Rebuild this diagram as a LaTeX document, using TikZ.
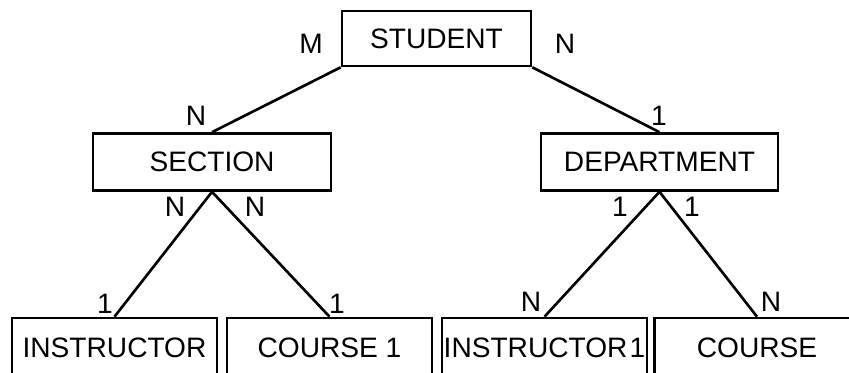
\documentclass[tikz,border=0pt]{standalone}
\usepackage{fontspec}
\setmainfont{Liberation Sans}
\usepackage{tikz}

\begin{document}
\begin{tikzpicture}[
        entity/.style={draw, line width=1.5pt, inner sep=0pt, minimum height=1.14cm},
        lower/.style={entity, minimum width=4.1cm, minimum height=1.2cm},
        card/.style={inner sep=0pt},
        every node/.style={font=\fontsize{16}{19}\selectfont}
    ]
        \useasboundingbox (0,0) rectangle (16.98,7.44);
        \node[entity, minimum width=3.78cm, minimum height=1.1cm] (student) at (8.73,6.67) {STUDENT};
        \node[entity, minimum width=4.76cm] (section) at (4.24,4.2) {SECTION};
        \node[entity, minimum width=4.74cm] (department) at (13.19,4.2) {DEPARTMENT};
        \node[lower] (instructor) at (2.29,0.48) {INSTRUCTOR};
        \node[lower] (course1) at (6.59,0.48) {COURSE 1};
        \node[lower] (instructor1) at (10.89,0.48) {INSTRUCTOR\hspace{-0.2em} 1};
        \node[lower] (course) at (15.14,0.48) {COURSE};

        \draw[line width=1.5pt] (student.south west) -- (section.north);
        \draw[line width=1.5pt] (student.south east) -- (department.north);
        \draw[line width=1.5pt] (section.south) -- (instructor.north);
        \draw[line width=1.5pt] (section.south) -- (course1.north);
        \draw[line width=1.5pt] (department.south) -- (instructor1.north);
        \draw[line width=1.5pt] (department.south) -- (course.north);

        \node[card] (cardstudentl) at (6.22,6.56) {M};
        \node[card] (cardstudentr) at (11.3,6.56) {N};
        \node[card] (cardsection) at (3.92,5.12) {N};
        \node[card] (carddepartment) at (13.18,5.12) {1};
        \node[card] (cardsectionl) at (3.5,3.3) {N};
        \node[card] (cardsectionr) at (5.1,3.3) {N};
        \node[card] (cardinstructor) at (2.1,1.36) {1};
        \node[card] (cardcourse1) at (6.74,1.36) {1};
        \node[card] (carddepartmentl) at (12.4,3.3) {1};
        \node[card] (carddepartmentr) at (13.84,3.3) {1};
        \node[card] (cardinstructor1) at (10.62,1.4) {N};
        \node[card] (cardcourse) at (15.42,1.4) {N};
    \end{tikzpicture}
\end{document}
